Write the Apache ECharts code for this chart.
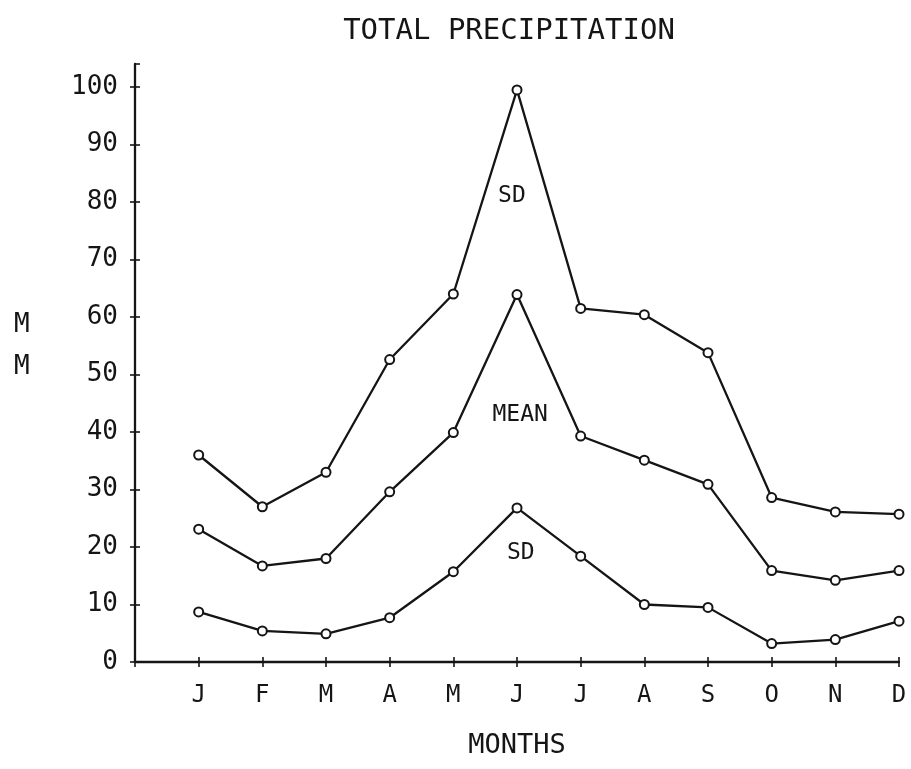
<!DOCTYPE html>
<html>
<head>
<meta charset="utf-8">
<title>Total Precipitation</title>
<script src="https://cdn.jsdelivr.net/npm/echarts@6/dist/echarts.min.js"></script>
<style>
	html, body { margin: 0; padding: 0; background: #fff; }
	#chart_box { width: 911px; height: 769px; }
</style>
</head>
<body>
<div id="chart_box"></div>
<script>
// 月份和数据 (mm)
var months = ['J', 'F', 'M', 'A', 'M', 'J', 'J', 'A', 'S', 'O', 'N', 'D'];
var upperSd = [36, 27, 33, 52.6, 64, 99.5, 61.5, 60.4, 53.8, 28.6, 26.1, 25.7];
var meanMm = [23.1, 16.7, 18.0, 29.6, 39.9, 63.9, 39.3, 35.1, 30.9, 15.9, 14.2, 15.9];
var lowerSd = [8.7, 5.4, 4.9, 7.7, 15.7, 26.8, 18.4, 10.0, 9.5, 3.2, 3.9, 7.1];
var yTicks = [0, 10, 20, 30, 40, 50, 60, 70, 80, 90, 100];

var ink = '#151515';
var font = 'DejaVu Sans Mono';

function pairs(values) {
	return values.map(function(v, i) { return [i + 1, v]; });
}

function lineSeries(name, values, note, noteAt) {
	return {
		name: name,
		type: 'line',
		data: pairs(values),
		symbol: 'emptyCircle',
		symbolSize: 9,
		lineStyle: { color: ink, width: 2.3 },
		itemStyle: { color: ink, borderColor: ink, borderWidth: 1.6 },
		animation: false,
		markPoint: {
			symbol: 'circle',
			symbolSize: 0,
			label: {
				show: true,
				position: 'inside',
				formatter: note,
				color: ink,
				fontFamily: font,
				fontSize: 23
			},
			data: [{ coord: noteAt }]
		}
	};
}

var chart = echarts.init(document.getElementById('chart_box'));

var option = {
	backgroundColor: '#fff',
	animation: false,
	title: {
		text: 'TOTAL PRECIPITATION',
		left: 504,
		top: 12,
		textAlign: 'center',
		textStyle: { fontFamily: font, fontSize: 29, fontWeight: 'normal', color: ink }
	},
	grid: { left: 135, right: 12, top: 64, bottom: 107 },
	xAxis: [{
		type: 'value',
		min: 0,
		max: 12,
		interval: 1,
		name: 'MONTHS',
		nameLocation: 'middle',
		nameGap: 70,
		nameTextStyle: { fontFamily: font, fontSize: 27, color: ink },
		splitLine: { show: false },
		axisLine: { lineStyle: { color: ink, width: 2.3 } },
		axisTick: { length: 5, lineStyle: { color: ink, width: 1.6 } },
		axisLabel: {
			margin: 22,
			fontFamily: font,
			fontSize: 24,
			color: ink,
			formatter: function(v) { return v >= 1 ? months[v - 1] : ''; }
		}
	}, {
		type: 'value',
		position: 'bottom',
		min: 0,
		max: 12,
		interval: 1,
		splitLine: { show: false },
		axisLine: { show: false },
		axisTick: { inside: true, length: 5, lineStyle: { color: ink, width: 1.6 } },
		axisLabel: { show: false }
	}],
	yAxis: [{
		type: 'value',
		min: 0,
		max: 104,
		interval: 10,
		splitLine: { show: false },
		axisLine: { show: true, lineStyle: { color: ink, width: 2.3 } },
		axisTick: { show: true, length: 5, lineStyle: { color: ink, width: 1.6 } },
		axisLabel: {
			margin: 17,
			fontFamily: font,
			fontSize: 26,
			color: ink,
			showMaxLabel: false,
			formatter: function(v) { return yTicks.indexOf(v) >= 0 ? String(v) : ''; }
		}
	}, {
		type: 'value',
		position: 'left',
		min: 0,
		max: 104,
		interval: 10,
		splitLine: { show: false },
		axisLine: { show: false },
		axisTick: { show: true, inside: true, length: 5, lineStyle: { color: ink, width: 1.6 } },
		axisLabel: { show: false }
	}],
	graphic: [{
		type: 'text',
		left: 14,
		top: 304,
		style: {
			text: 'M\nM',
			fontFamily: font,
			fontSize: 26,
			lineHeight: 42,
			fill: ink
		}
	}],
	series: [
		lineSeries('SD+', upperSd, 'SD', [5.92, 81]),
		lineSeries('MEAN', meanMm, 'MEAN', [6.05, 43]),
		lineSeries('SD-', lowerSd, 'SD', [6.06, 19])
	]
};

chart.setOption(option);
</script>
</body>
</html>
